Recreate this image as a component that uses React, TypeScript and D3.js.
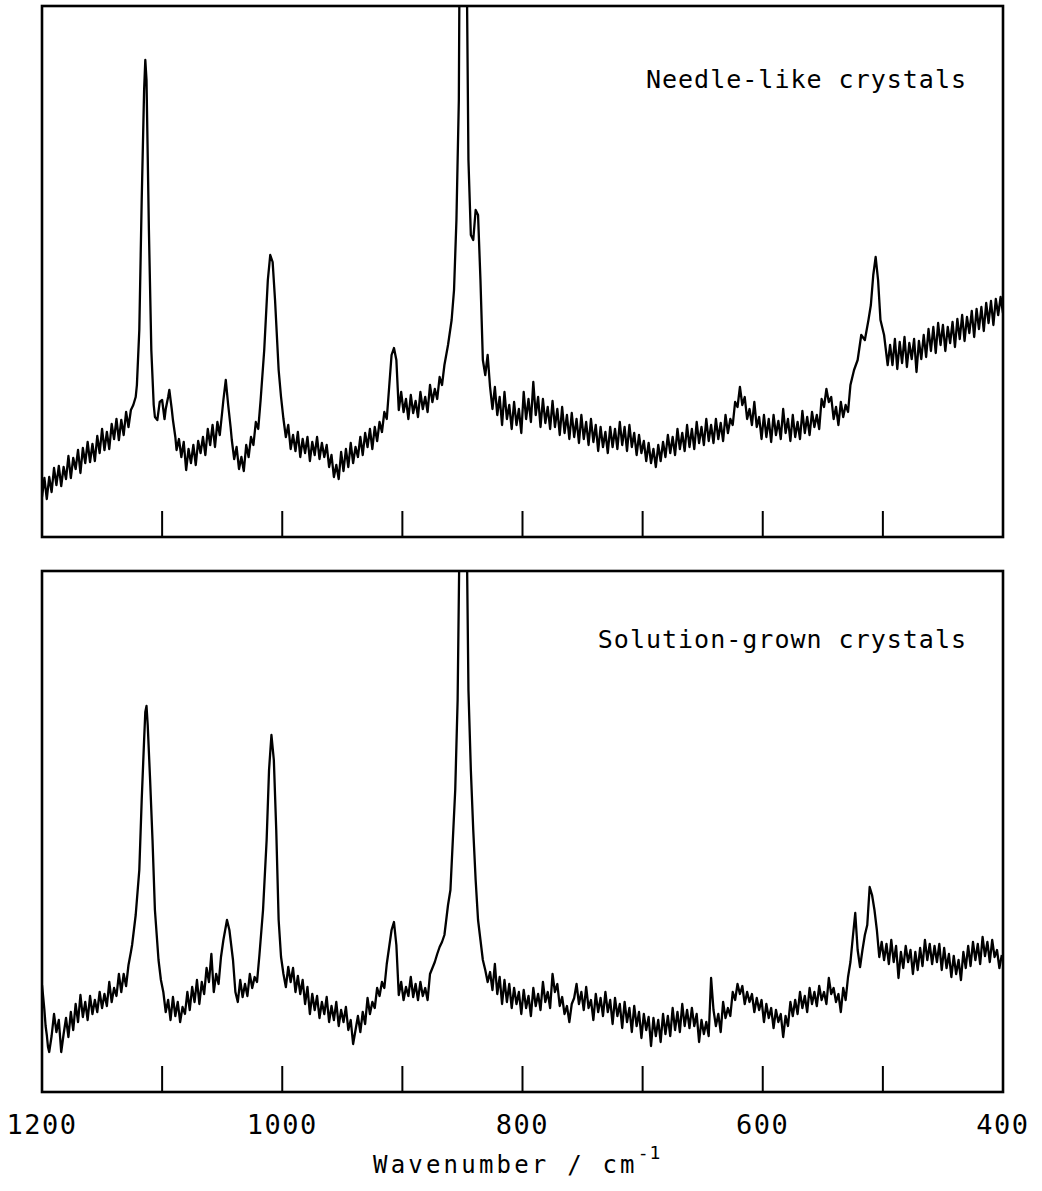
import React from 'react';
import * as d3 from 'd3';

// Raman spectra, wavenumber (cm^-1) vs intensity (arbitrary units)
const needleSpectrum: [number, number][] = [
  [1200,40],[1198,59],[1196,38],[1194,60],[1192,45],[1190,69],[1188,52],[1186,71],[1184,51],[1182,70],
  [1180,58],[1178,81],[1176,59],[1174,79],[1172,68],[1170,87],[1168,64],[1166,89],[1164,74],[1162,95],
  [1160,75],[1158,93],[1156,76],[1154,101],[1152,84],[1150,108],[1148,87],[1146,105],[1144,88],[1142,113],
  [1140,98],[1138,118],[1136,97],[1134,117],[1132,102],[1130,125],[1128,110],[1126,127],[1124,132],
  [1122,140],[1121,152],[1119,207],[1117,337],[1115,447],[1114,477],[1113,457],[1111,307],[1109,187],[1107,132],
  [1106,120],[1104,117],[1102,135],[1100,137],[1098,118],[1097,128],[1095,140],[1094,147],[1092,128],[1091,117],
  [1089,100],[1088,87],[1086,98],[1084,80],[1082,95],[1080,67],[1078,88],[1076,74],[1074,92],[1072,72],
  [1070,96],[1068,84],[1066,100],[1064,82],[1062,108],[1060,92],[1058,112],[1056,90],[1054,115],[1052,102],
  [1050,125],[1049,137],[1047,157],[1045,132],[1043,110],[1042,97],[1040,78],[1038,90],[1036,68],[1034,80],
  [1032,66],[1030,92],[1028,80],[1026,100],[1024,92],[1022,115],[1020,108],[1018,137],
  [1015,187],[1012,257],[1010,282],[1008,275],[1006,237],[1003,167],[1001,140],
  [999,118],[997,100],[995,112],[993,88],[991,102],[989,86],[987,105],[985,80],[983,98],[981,84],
  [979,100],[977,76],[975,95],[973,82],[971,100],[969,78],[967,94],[965,80],[963,92],[961,70],
  [959,82],[957,60],[955,72],[953,58],[951,85],[949,66],[947,88],[945,70],[943,94],[941,74],
  [939,90],[937,80],[935,100],[933,82],[931,104],[929,90],[927,108],[925,88],[923,110],[921,96],
  [919,115],[917,105],[915,125],[913,118],[911,150],
  [909,182],[907,189],[905,177],[903,127],[901,145],
  [899,125],[897,138],[895,118],[893,142],[891,124],[889,136],[887,120],[885,145],[883,128],[881,140],
  [879,125],[877,152],[875,135],[873,148],[871,138],[869,160],[867,152],
  [865,172],[862,192],[859,217],[857,247],[855,317],[853,437],[851,900],[849,1000],[847,650],[845,377],
  [843,302],[841,297],[839,327],[837,322],[835,257],[833,177],[831,162],[829,182],[827,150],
  [825,128],[823,150],[821,122],[819,140],[817,112],[815,145],[813,118],[811,132],[809,108],[807,135],
  [805,112],[803,128],[801,104],[799,145],[797,118],[795,138],[793,115],[791,155],[789,122],[787,140],
  [785,110],[783,138],[781,114],[779,130],[777,108],[775,136],[773,110],[771,128],[769,102],[767,130],
  [765,104],[763,122],[761,98],[759,124],[757,100],[755,118],[753,94],[751,122],[749,98],[747,115],
  [745,92],[743,118],[741,95],[739,112],[737,86],[735,110],[733,90],[731,105],[729,84],[727,110],
  [725,90],[723,108],[721,88],[719,115],[717,92],[715,110],[713,86],[711,112],[709,90],[707,104],
  [705,82],[703,102],[701,84],[699,96],[697,76],[695,94],[693,74],[691,88],[689,70],[687,92],
  [685,76],[683,95],[681,80],[679,102],[677,84],[675,100],[673,82],[671,108],[669,88],[667,104],
  [665,86],[663,112],[661,90],[659,108],[657,88],[655,115],[653,94],[651,110],[649,92],[647,118],
  [645,96],[643,112],[641,94],[639,118],[637,98],[635,114],[633,96],[631,122],[629,104],[627,118],
  [625,112],[623,135],[621,130],[619,150],[617,132],[615,140],[613,118],[611,128],[609,112],[607,135],
  [605,110],[603,120],[601,98],[599,122],[597,100],[595,118],[593,95],[591,122],[589,102],[587,116],
  [585,98],[583,128],[581,104],[579,118],[577,96],[575,122],[573,100],[571,115],[569,98],[567,126],
  [565,104],[563,120],[561,102],[559,125],[557,110],[555,122],[553,108],[551,138],[549,130],[547,148],
  [545,135],[543,140],[541,118],[539,130],[537,112],[535,135],[533,120],[531,132],[529,125],
  [527,152],[524,167],[521,177],[518,202],[515,197],[512,217],[510,232],[508,262],[506,280],[504,257],
  [502,217],[499,202],[496,172],
  [494,192],[492,172],[490,198],[488,168],[486,195],[484,174],[482,200],[480,170],[478,194],[476,178],
  [474,198],[472,165],[470,196],[468,178],[466,202],[464,180],[462,208],[460,186],[458,210],[456,184],
  [454,214],[452,192],[450,212],[448,186],[446,210],[444,194],[442,215],[440,190],[438,218],[436,198],
  [434,222],[432,196],[430,220],[428,204],[426,226],[424,200],[422,228],[420,208],[418,230],[416,206],
  [414,234],[412,214],[410,236],[408,212],[406,238],[404,222],[402,240],[400,224],
];

const solutionSpectrum: [number, number][] = [
  [1200,107],[1199,95],[1198,82],[1197,66],[1196,57],[1195,45],[1194,40],[1192,56],[1190,78],[1188,60],
  [1186,72],[1184,40],[1182,58],[1180,74],[1178,55],[1176,80],[1174,62],[1172,88],[1170,70],[1168,97],
  [1166,75],[1164,90],[1162,72],[1160,96],[1158,78],[1156,92],[1154,80],[1152,100],[1150,84],[1148,98],
  [1146,86],[1144,110],[1142,90],[1140,104],[1138,96],[1136,118],[1134,100],[1132,118],[1130,106],[1128,127],
  [1126,140],[1125,147],[1122,177],[1119,222],[1117,292],[1115,352],[1114,380],[1113,386],[1112,367],[1110,312],
  [1108,252],[1106,182],[1103,132],[1101,112],
  [1099,100],[1097,80],[1095,92],[1093,72],[1091,95],[1089,76],[1087,90],[1085,70],[1083,85],[1081,78],
  [1079,100],[1077,82],[1075,105],[1073,90],[1071,112],[1069,88],[1067,110],[1065,98],[1063,124],[1061,110],
  [1059,138],[1057,100],[1055,118],[1053,108],[1051,135],
  [1049,152],[1046,172],[1044,162],[1041,132],[1039,100],
  [1037,90],[1035,112],[1033,95],[1031,108],[1029,96],[1027,118],[1025,104],[1023,115],[1021,110],
  [1019,137],[1016,182],[1013,252],[1011,322],[1009,357],[1007,332],[1005,262],[1003,172],[1001,135],
  [999,118],[997,105],[995,125],[993,110],[991,124],[989,100],[987,116],[985,98],[983,112],[981,88],
  [979,105],[977,78],[975,98],[973,82],[971,96],[969,74],[967,90],[965,78],[963,95],[961,70],
  [959,86],[957,72],[955,90],[953,66],[951,82],[949,70],[947,85],[945,62],[943,72],[941,48],
  [939,62],[937,76],[935,60],[933,80],[931,68],[929,94],[927,78],[925,90],[923,84],[921,104],
  [919,96],[917,110],[915,104],[913,128],[911,145],
  [909,162],[907,170],[905,147],[903,97],[901,110],
  [899,92],[897,105],[895,96],[893,115],[891,95],[889,108],[887,92],[885,110],[883,96],[881,104],
  [879,92],[877,118],[875,124],[873,130],[871,138],[869,145],[867,150],
  [865,157],[862,187],[860,202],[858,252],[856,302],[854,392],[852,600],[850,900],[848,800],[846,512],
  [845,402],[843,322],[841,262],[839,212],[837,172],[835,152],[833,132],[831,122],
  [829,110],[827,120],[825,102],[823,128],[821,98],[819,115],[817,88],[815,112],[813,90],[811,108],
  [809,84],[807,104],[805,88],[803,100],[801,78],[799,102],[797,84],[795,96],[793,76],[791,104],
  [789,86],[787,98],[785,82],[783,110],[781,90],[779,100],[777,84],[775,118],[773,100],[771,108],
  [769,86],[767,95],[765,78],[763,86],[761,70],[759,88],[757,94],[755,108],[753,88],[751,100],
  [749,82],[747,105],[745,84],[743,92],[741,72],[739,98],[737,80],[735,94],[733,76],[731,100],
  [729,80],[727,92],[725,68],[723,94],[721,76],[719,88],[717,64],[715,90],[713,70],[711,84],
  [709,60],[707,86],[705,66],[703,80],[701,54],[699,78],[697,62],[695,75],[693,46],[691,74],
  [689,56],[687,72],[685,50],[683,78],[681,58],[679,76],[677,56],[675,84],[673,62],[671,80],
  [669,60],[667,88],[665,66],[663,82],[661,64],[659,84],[657,66],[655,78],[653,50],[651,72],
  [649,58],[647,70],[645,56],[643,114],[641,82],[639,66],[637,78],[635,60],[633,90],[631,74],
  [629,84],[627,76],[625,100],[623,92],[621,108],[619,98],[617,106],[615,88],[613,100],[611,90],
  [609,98],[607,80],[605,94],[603,82],[601,92],[599,70],[597,88],[595,74],[593,84],[591,64],
  [589,82],[587,70],[585,78],[583,55],[581,76],[579,66],[577,90],[575,76],[573,92],[571,78],
  [569,100],[567,84],[565,96],[563,80],[561,104],[559,88],[557,100],[555,86],[553,106],[551,92],
  [549,100],[547,88],[545,114],[543,98],[541,104],[539,90],[537,98],[535,80],[533,104],[531,92],
  [529,115],
  [527,130],[525,155],[523,179],[521,142],[519,125],[517,142],[515,157],[513,167],[511,205],[509,197],
  [507,182],[505,162],[503,135],[501,150],
  [499,132],[497,148],[495,128],[493,152],[491,130],[489,146],[487,114],[485,140],[483,124],[481,146],
  [479,130],[477,142],[475,118],[473,140],[471,122],[469,144],[467,126],[465,152],[463,132],[461,148],
  [459,128],[457,146],[455,130],[453,148],[451,122],[449,144],[447,124],[445,138],[443,115],[441,136],
  [439,118],[437,132],[435,112],[433,140],[431,124],[429,146],[427,126],[425,150],[423,132],[421,148],
  [419,128],[417,155],[415,136],[413,150],[411,130],[409,152],[407,135],[405,142],[403,124],[401,137],
];

const panelLabels = ['Needle-like crystals', 'Solution-grown crystals'];
const tickValues = [1100, 1000, 900, 800, 700, 600, 500];
const tickLabelValues = [1200, 1000, 800, 600, 400];
const xDomain: [number, number] = [1200, 400];
const topDomain: [number, number] = [0, 531];
const bottomDomain: [number, number] = [0, 521];

const FONT = '"DejaVu Sans Mono", monospace';

export default function App() {
  const x = d3.scaleLinear().domain(xDomain).range([42, 1003]);

  const panels = [
    { data: needleSpectrum, label: panelLabels[0], top: 6, bottom: 537, domain: topDomain, labelY: 88 },
    { data: solutionSpectrum, label: panelLabels[1], top: 571, bottom: 1092, domain: bottomDomain, labelY: 648 },
  ];

  return (
    <svg
      width={1042}
      height={1191}
      style={{ position: 'absolute', left: 0, top: 0, background: '#fff' }}
    >
      <rect x={0} y={0} width={1042} height={1191} fill="#fff" />
      <defs>
        {panels.map((p, i) => (
          <clipPath id={`clip${i}`} key={i}>
            <rect x={42} y={p.top} width={961} height={p.bottom - p.top} />
          </clipPath>
        ))}
      </defs>
      {panels.map((p, i) => {
        const y = d3.scaleLinear().domain(p.domain).range([p.bottom, p.top]);
        const line = d3
          .line<[number, number]>()
          .x((d) => x(d[0]))
          .y((d) => y(d[1]));
        return (
          <g key={i}>
            <path
              d={line(p.data) || ''}
              fill="none"
              stroke="#000"
              strokeWidth={2.3}
              strokeLinejoin="round"
              clipPath={`url(#clip${i})`}
            />
            {tickValues.map((t) => (
              <line
                key={t}
                x1={x(t)}
                x2={x(t)}
                y1={p.bottom}
                y2={p.bottom - 26}
                stroke="#000"
                strokeWidth={2}
              />
            ))}
            <rect
              x={42}
              y={p.top}
              width={961}
              height={p.bottom - p.top}
              fill="none"
              stroke="#000"
              strokeWidth={2.6}
            />
            <text
              x={967}
              y={p.labelY}
              textAnchor="end"
              fontFamily={FONT}
              fontSize={25}
              letterSpacing={1}
              fill="#000"
            >
              {p.label}
            </text>
          </g>
        );
      })}
      {tickLabelValues.map((t) => (
        <text
          key={t}
          x={x(t)}
          y={1134}
          textAnchor="middle"
          fontFamily={FONT}
          fontSize={27}
          letterSpacing={1.5}
          fill="#000"
        >
          {t}
        </text>
      ))}
      <text x={373} y={1173} fontFamily={FONT} fontSize={24} letterSpacing={3.2} fill="#000">
        Wavenumber / cm
        <tspan fontSize={18} dy={-14} letterSpacing={1}>-1</tspan>
      </text>
    </svg>
  );
}
